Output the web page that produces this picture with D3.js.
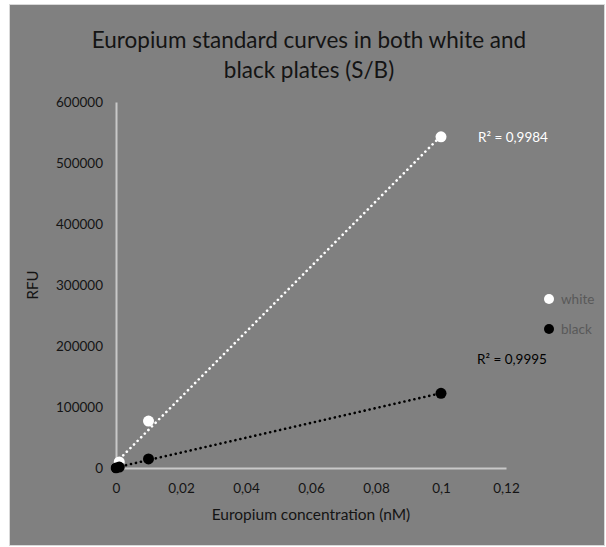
<!DOCTYPE html>
<html><head><meta charset="utf-8">
<script src="https://cdn.jsdelivr.net/npm/d3@7"></script>
<style>body{margin:0;background:#fff;} svg{display:block;font-family:Lato,"Open Sans",sans-serif;}</style>
</head><body>
<svg id="c" width="606" height="547"></svg>
<script>
const concentrations = [0, 0.001, 0.01, 0.1];
const whiteValues = [0, 10000, 77000, 543000];
const blackValues = [0, 1500, 14800, 122500];
const seriesNames = ["white", "black"];
const xTicks = [0, 0.02, 0.04, 0.06, 0.08, 0.1, 0.12];
const yTicks = [0, 100000, 200000, 300000, 400000, 500000, 600000];
const r2Labels = ["R² = 0,9984", "R² = 0,9995"];

const svg = d3.select("#c");
svg.append("rect").attr("x",9.5).attr("y",4.5).attr("width",595).attr("height",541)
  .attr("fill","#808080").attr("stroke","#d9d9d9").attr("stroke-width",1);

const x = d3.scaleLinear().domain([0,0.12]).range([116,506]);
const y = d3.scaleLinear().domain([0,600000]).range([468,102]);

// title
const title = svg.append("text").attr("text-anchor","middle").attr("fill","#141414").attr("font-size",22.5);
title.append("tspan").attr("x",309).attr("y",48).text("Europium standard curves in both white and");
title.append("tspan").attr("x",309).attr("y",78).text("black plates (S/B)");

// axes
const fmt = d => d.toString().replace(".", ",");
const xAxis = svg.append("g").attr("transform","translate(0,468)")
  .call(d3.axisBottom(x).tickValues(xTicks).tickSize(0).tickPadding(15).tickFormat(fmt));
const yAxis = svg.append("g").attr("transform","translate(116,0)")
  .call(d3.axisLeft(y).tickValues(yTicks).tickSize(0).tickPadding(13).tickFormat(d3.format("d")));
[xAxis,yAxis].forEach(a=>{
  a.select(".domain").attr("stroke","#c8c8c8").attr("stroke-width",2);
  a.selectAll("text").attr("fill","#141414").attr("font-size",13.5).attr("font-family","Lato,'Open Sans',sans-serif");
});

svg.append("text").attr("x",311).attr("y",520).attr("text-anchor","middle").attr("fill","#141414")
  .attr("font-size",15.5).text("Europium concentration (nM)");
svg.append("text").attr("transform","translate(38,285) rotate(-90)").attr("text-anchor","middle")
  .attr("fill","#141414").attr("font-size",15).text("RFU");

function fit(xs, ys){
  const n=xs.length, mx=d3.mean(xs), my=d3.mean(ys);
  let sxy=0,sxx=0; for(let i=0;i<n;i++){sxy+=(xs[i]-mx)*(ys[i]-my); sxx+=(xs[i]-mx)**2;}
  const m=sxy/sxx; return {m, b:my-m*mx};
}
const series = [
  {name:seriesNames[0], vals:whiteValues, color:"#ffffff", r2:r2Labels[0], lx:478, ly:142},
  {name:seriesNames[1], vals:blackValues, color:"#000000", r2:r2Labels[1], lx:477, ly:364},
];
series.forEach(s=>{
  const f = fit(concentrations, s.vals);
  const x0 = d3.min(concentrations), x1 = d3.max(concentrations);
  svg.append("line").attr("x1",x(x0)).attr("y1",y(Math.max(0,f.m*x0+f.b)))
    .attr("x2",x(x1)).attr("y2",y(f.m*x1+f.b))
    .attr("stroke",s.color).attr("stroke-width",2.6).attr("stroke-linecap","round")
    .attr("stroke-dasharray","0.1 5");
});
series.forEach(s=>{
  svg.append("g").selectAll("circle").data(concentrations.map((c,i)=>[c,s.vals[i]])).join("circle")
    .attr("cx",d=>x(d[0])).attr("cy",d=>y(d[1])).attr("r",5.5).attr("fill",s.color);
  svg.append("text").attr("x",s.lx).attr("y",s.ly).attr("fill",s.color).attr("font-size",13.5).text(s.r2);
});
// legend
series.forEach((s,i)=>{
  svg.append("circle").attr("cx",549).attr("cy",299+i*30).attr("r",5).attr("fill",s.color);
  svg.append("text").attr("x",561).attr("y",304+i*30).attr("fill","#595959").attr("font-size",13.5).text(s.name);
});
</script>
</body></html>
